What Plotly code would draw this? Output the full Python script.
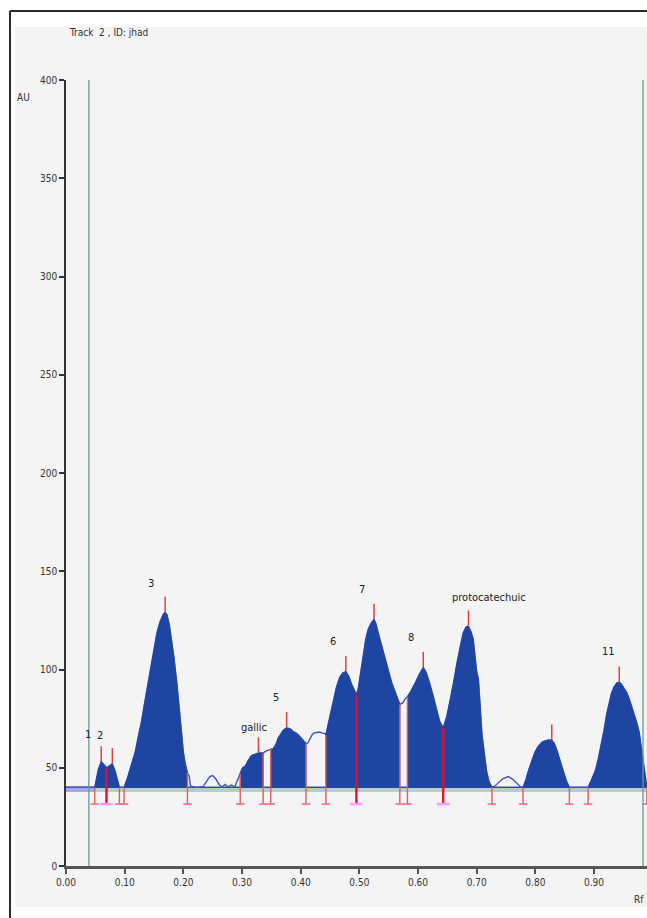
import plotly.graph_objects as go

# ---- densitogram scan, track 2 (Rf vs absorbance units) ----
rf = [0.000, 0.039, 0.049, 0.055, 0.060, 0.065, 0.069, 0.074, 0.079, 0.084, 0.088, 0.091,
      0.095, 0.099, 0.105, 0.112, 0.118, 0.123, 0.129, 0.135, 0.141, 0.146, 0.150, 0.155,
      0.160, 0.166, 0.169, 0.172, 0.176, 0.180, 0.184, 0.189, 0.193, 0.197, 0.200, 0.203,
      0.207, 0.210, 0.212, 0.215, 0.223, 0.234, 0.240, 0.245, 0.250, 0.256, 0.261, 0.266,
      0.271, 0.276, 0.282, 0.288, 0.294, 0.297, 0.301, 0.305, 0.311, 0.315, 0.319, 0.324,
      0.328, 0.332, 0.336, 0.341, 0.345, 0.349, 0.353, 0.358, 0.362, 0.367, 0.370, 0.376,
      0.382, 0.387, 0.393, 0.399, 0.404, 0.409, 0.412, 0.416, 0.420, 0.424, 0.429, 0.433,
      0.437, 0.441, 0.443, 0.449, 0.456, 0.461, 0.467, 0.472, 0.477, 0.482, 0.487, 0.491,
      0.495, 0.498, 0.501, 0.507, 0.511, 0.515, 0.520, 0.525, 0.528, 0.532, 0.538, 0.544,
      0.550, 0.555, 0.561, 0.566, 0.569, 0.574, 0.578, 0.582, 0.588, 0.595, 0.602, 0.609,
      0.614, 0.620, 0.626, 0.632, 0.637, 0.643, 0.649, 0.655, 0.661, 0.666, 0.672, 0.677,
      0.682, 0.686, 0.690, 0.694, 0.700, 0.703, 0.709, 0.713, 0.717, 0.721, 0.726, 0.730,
      0.735, 0.740, 0.745, 0.754, 0.762, 0.769, 0.774, 0.779, 0.784, 0.788, 0.793, 0.799,
      0.804, 0.811, 0.815, 0.819, 0.823, 0.828, 0.832, 0.836, 0.840, 0.845, 0.849, 0.853,
      0.858, 0.868, 0.880, 0.890, 0.896, 0.902, 0.907, 0.913, 0.917, 0.922, 0.926, 0.930,
      0.934, 0.939, 0.943, 0.947, 0.951, 0.956, 0.960, 0.964, 0.968, 0.973, 0.977, 0.981,
      0.985, 0.987, 0.989, 0.990]
au = [40.0, 40.0, 40.0, 49.0, 53.0, 51.5, 50.0, 51.0, 52.0, 48.0, 43.0, 40.0,
      40.0, 40.0, 45.0, 52.0, 58.0, 65.5, 74.0, 84.7, 95.0, 105.0, 112.0, 118.6,
      124.0, 128.2, 129.0, 128.0, 123.0, 115.0, 106.0, 93.0, 80.0, 67.7, 58.0, 52.4,
      47.3, 45.8, 41.0, 40.5, 40.0, 40.5, 43.0, 45.5, 46.0, 44.0, 41.5, 40.2,
      41.5, 40.3, 41.2, 40.3, 45.0, 47.0, 50.0, 50.6, 54.0, 55.8, 56.5, 57.3,
      57.5, 57.5, 57.5, 58.5, 59.0, 59.5, 59.5, 62.0, 65.3, 67.5, 69.0, 70.4,
      69.8, 68.5, 67.5, 65.8, 64.0, 62.4, 62.5, 64.6, 67.0, 67.8, 68.2, 68.2,
      67.5, 67.5, 66.7, 75.0, 84.7, 91.0, 96.3, 98.3, 98.9, 96.5, 92.3, 89.5,
      87.3, 90.0, 96.0, 109.2, 115.5, 120.4, 123.5, 125.5, 123.5, 118.8, 112.0, 106.1,
      99.5, 93.4, 88.5, 84.5, 82.2, 83.0, 85.0, 86.2, 89.0, 93.0, 97.5, 101.0,
      98.5, 93.0, 86.5, 79.3, 73.5, 70.2, 76.0, 84.5, 94.0, 103.3, 111.5, 118.6,
      121.7, 122.0, 119.5, 115.5, 99.0, 95.0, 67.0, 57.0, 48.0, 43.0, 40.2, 40.5,
      42.0, 43.5, 44.5, 45.5, 44.0, 42.0, 40.5, 40.0, 44.0, 48.3, 53.0, 57.7,
      60.5, 63.0, 63.5, 64.0, 64.2, 64.0, 62.5, 59.5, 56.0, 51.0, 47.0, 43.3,
      40.0, 40.0, 40.0, 40.0, 44.0, 48.3, 54.0, 62.7, 69.0, 77.9, 84.0, 88.1,
      91.0, 93.2, 93.5, 92.4, 90.5, 88.1, 85.0, 81.3, 78.0, 72.8, 68.0, 59.8,
      50.0, 45.5, 41.0, 40.0]

baseline_au = 40.0

# integrated peak windows (Rf start / end)
peak_starts = [0.049, 0.069, 0.099, 0.297, 0.349, 0.443, 0.495, 0.582, 0.643, 0.779, 0.890]
peak_ends = [0.069, 0.091, 0.207, 0.336, 0.409, 0.495, 0.569, 0.643, 0.726, 0.858, 0.990]
valley_splits = [0.069, 0.495, 0.643]

# peak maxima
apex_rf = [0.060, 0.079, 0.169, 0.328, 0.376, 0.477, 0.525, 0.609, 0.686, 0.828, 0.943]
apex_au = [53.0, 52.0, 129.0, 57.5, 70.4, 98.9, 125.5, 101.0, 122.0, 64.0, 93.5]

# peak labels
label_text = ["1", "2", "3", "gallic", "5", "6", "7", "8", "protocatechuic", "11"]
label_rf = [0.0375, 0.058, 0.145, 0.320, 0.358, 0.455, 0.5045, 0.588, 0.721, 0.9255]
label_au = [66.7, 66.2, 144.0, 70.7, 86.0, 114.5, 140.5, 116.5, 136.4, 109.0]

application_rf = 0.039
front_rf = 0.9835
marker_floor_au = 31.5
apex_tick_au = 8.0

x_tick_vals = [0.0, 0.1, 0.2, 0.3, 0.4, 0.5, 0.6, 0.7, 0.8, 0.9]
y_tick_vals = [0, 50, 100, 150, 200, 250, 300, 350, 400]

FONT = "Liberation Sans Narrow, DejaVu Sans Condensed, Arial Narrow, Liberation Sans, sans-serif"
FILL_BLUE = "#1f45a3"
CURVE_BLUE = "#3f57c0"

value_at = dict(zip(rf, au))

fig = go.Figure()

# baseline band and baseline
fig.add_trace(go.Scatter(x=[rf[0], rf[-1]], y=[baseline_au - 0.8, baseline_au - 0.8],
                         mode="lines", line=dict(color="#b9cdc7", width=6)))
fig.add_trace(go.Scatter(x=[rf[0], peak_starts[0]], y=[baseline_au - 0.8, baseline_au - 0.8],
                         mode="lines", line=dict(color="#a6a9e2", width=6)))
fig.add_trace(go.Scatter(x=[rf[0], rf[-1]], y=[baseline_au, baseline_au],
                         mode="lines", line=dict(color="#3048b0", width=1.2)))

# full scan trace
fig.add_trace(go.Scatter(x=rf, y=au, mode="lines",
                         line=dict(color=CURVE_BLUE, width=1.4)))

# integrated peak areas
for s, e in zip(peak_starts, peak_ends):
    seg_x = [r for r in rf if s <= r <= e]
    seg_y = [value_at[r] for r in seg_x]
    fig.add_trace(go.Scatter(x=[s] + seg_x + [e, s], y=[baseline_au] + seg_y + [baseline_au, baseline_au],
                             mode="lines", fill="toself", fillcolor=FILL_BLUE,
                             line=dict(color=FILL_BLUE, width=0.8)))

# peak boundary markers
bounds = sorted(set(peak_starts + peak_ends) - set(valley_splits))
bx, by = [], []
for b in bounds:
    bx += [b, b, None]
    by += [max(value_at[b], baseline_au), marker_floor_au, None]
fig.add_trace(go.Scatter(x=bx, y=by, mode="lines", line=dict(color="#d9605c", width=1.4)))
fig.add_trace(go.Scatter(x=bounds, y=[marker_floor_au] * len(bounds), mode="markers",
                         marker=dict(symbol="line-ew-open", size=6, line=dict(color="#d9605c", width=1.6))))

vx, vy = [], []
for v in valley_splits:
    vx += [v, v, None]
    vy += [value_at[v], marker_floor_au, None]
fig.add_trace(go.Scatter(x=vx, y=vy, mode="lines", line=dict(color="#e0102c", width=2.4)))
fig.add_trace(go.Scatter(x=valley_splits, y=[marker_floor_au] * len(valley_splits), mode="markers",
                         marker=dict(symbol="line-ew-open", size=9, line=dict(color="#d83848", width=2.5))))

# apex ticks
ax_, ay_ = [], []
for r, a in zip(apex_rf, apex_au):
    ax_ += [r, r, None]
    ay_ += [a, a + apex_tick_au, None]
fig.add_trace(go.Scatter(x=ax_, y=ay_, mode="lines", line=dict(color="#e04038", width=1.5)))

# application position and solvent front
for pos in (application_rf, front_rf):
    fig.add_trace(go.Scatter(x=[pos, pos], y=[0, 400], mode="lines",
                             line=dict(color="#5f9c9c", width=1.3)))

# peak labels
for t, r, a in zip(label_text, label_rf, label_au):
    fig.add_annotation(x=r, y=a, text=t, showarrow=False,
                       font=dict(family=FONT, size=11, color="#222222"),
                       xanchor="center", yanchor="middle")

# title / unit texts
fig.add_annotation(xref="paper", yref="paper", x=0.002, y=1.0598, text="Track  2 , ID: jhad",
                   showarrow=False, xanchor="left", yanchor="middle",
                   font=dict(family=FONT, size=10, color="#333333"))
fig.add_annotation(xref="paper", yref="paper", x=-0.0878, y=0.978, text="AU",
                   showarrow=False, xanchor="left", yanchor="middle",
                   font=dict(family=FONT, size=10, color="#333333"))
fig.add_annotation(xref="paper", yref="paper", x=0.998, y=-0.043, text="Rf",
                   showarrow=False, xanchor="right", yanchor="middle",
                   font=dict(family=FONT, size=10, color="#333333"))

# panel and frame
fig.add_shape(type="rect", xref="paper", yref="paper", x0=-0.0878, x1=1.02, y0=-0.0522, y1=1.0674,
              fillcolor="#f4f4f4", line=dict(width=0), layer="below")
fig.add_shape(type="line", xref="paper", yref="paper", x0=-0.0964, x1=1.02, y0=1.0878, y1=1.0878,
              line=dict(color="#2a2a2a", width=2), layer="below")
fig.add_shape(type="line", xref="paper", yref="paper", x0=-0.0964, x1=-0.0964, y0=-0.08, y1=1.0878,
              line=dict(color="#2a2a2a", width=2), layer="below")

fig.update_layout(
    width=647, height=918, autosize=False,
    margin=dict(l=66, r=0, t=80, b=52),
    paper_bgcolor="white", plot_bgcolor="rgba(0,0,0,0)",
    showlegend=False, hovermode=False,
    font=dict(family=FONT, size=10, color="#333333"),
)
fig.update_xaxes(range=[0, 0.9903], tickvals=x_tick_vals, tickformat=".2f",
                 showgrid=False, zeroline=False, showline=True, linecolor="#555555", linewidth=2.5,
                 ticks="outside", ticklen=5, tickcolor="#555555", tickwidth=1.5,
                 tickfont=dict(family=FONT, size=10, color="#333333"))
fig.update_yaxes(range=[0, 400], tickvals=y_tick_vals,
                 showgrid=False, zeroline=False, showline=True, linecolor="#333333", linewidth=1.5,
                 ticks="outside", ticklen=5, tickcolor="#333333", tickwidth=1.5,
                 tickfont=dict(family=FONT, size=10, color="#333333"))

fig.write_html("out.html", config={"displayModeBar": False})
